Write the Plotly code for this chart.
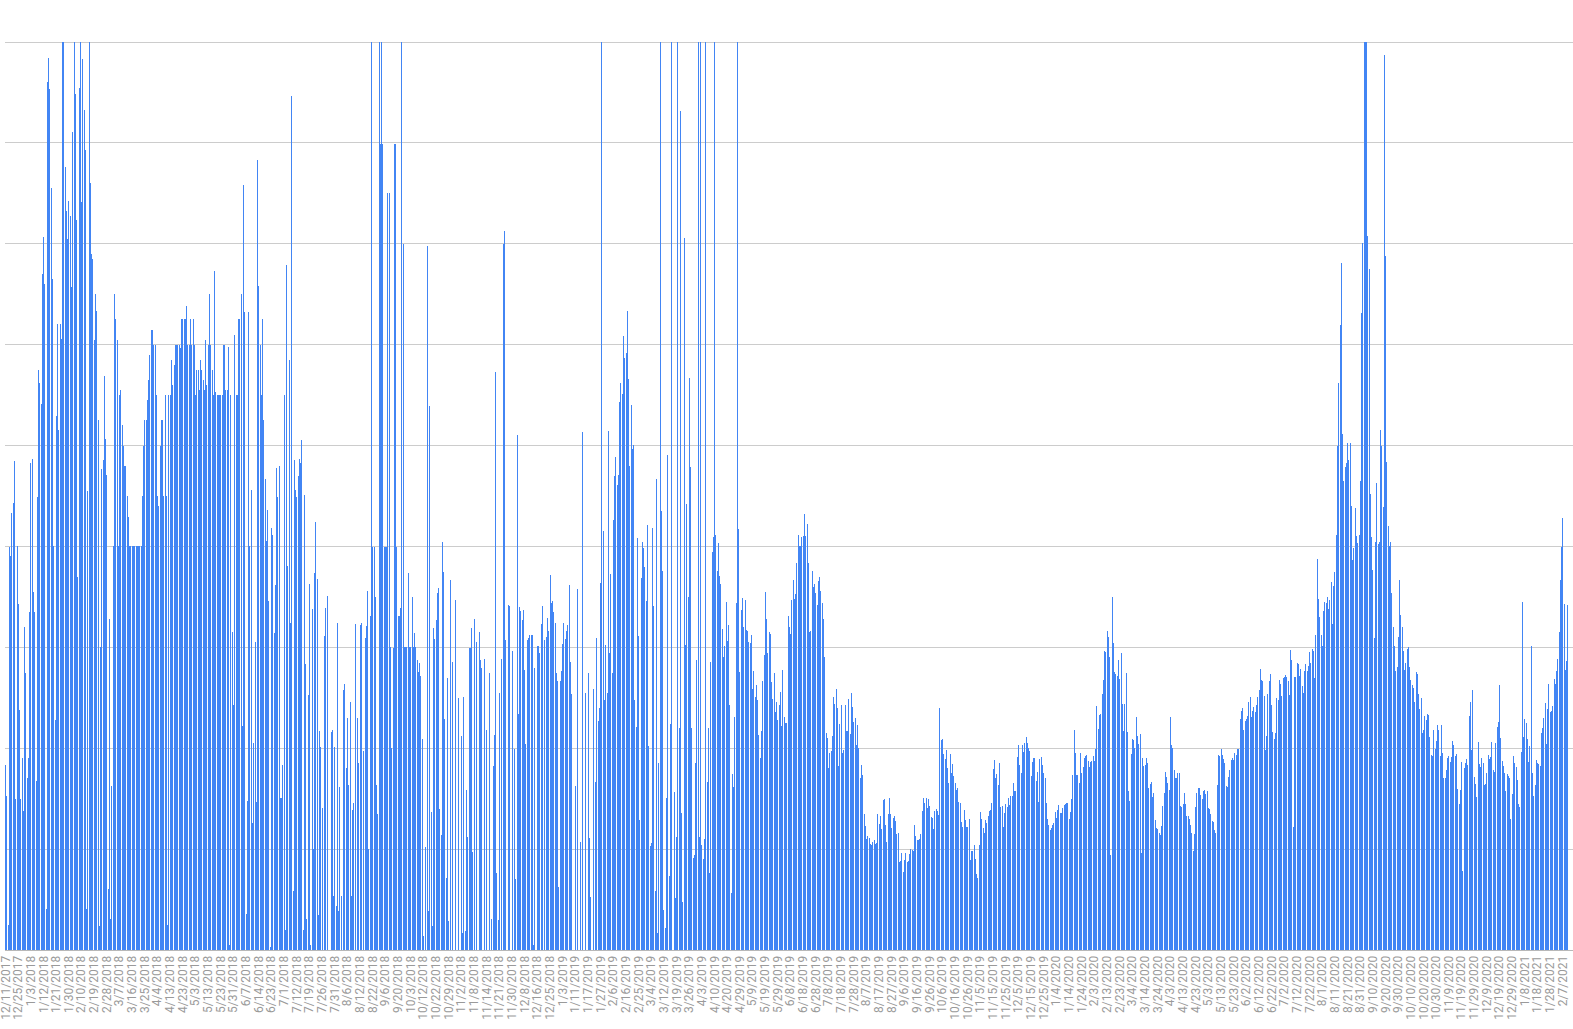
import plotly.graph_objects as go

tick_labels = """12/11/2017 12/25/2017 1/3/2018 1/12/2018 1/21/2018 1/30/2018 2/10/2018 2/19/2018 2/28/2018 3/7/2018 3/16/2018 3/25/2018 4/4/2018 4/13/2018 4/23/2018 5/3/2018 5/13/2018 5/23/2018 5/31/2018 6/7/2018 6/14/2018 6/23/2018 7/1/2018 7/12/2018 7/19/2018 7/26/2018 7/31/2018 8/6/2018 8/12/2018 8/22/2018 9/6/2018 9/20/2018 10/3/2018 10/12/2018 10/22/2018 10/29/2018 11/2/2018 11/8/2018 11/14/2018 11/21/2018 11/30/2018 12/8/2018 12/16/2018 12/25/2018 1/3/2019 1/11/2019 1/17/2019 1/27/2019 2/6/2019 2/16/2019 2/25/2019 3/4/2019 3/12/2019 3/19/2019 3/26/2019 4/3/2019 4/10/2019 4/20/2019 4/29/2019 5/9/2019 5/19/2019 5/29/2019 6/8/2019 6/18/2019 6/28/2019 7/8/2019 7/18/2019 7/28/2019 8/7/2019 8/17/2019 8/27/2019 9/6/2019 9/16/2019 9/26/2019 10/6/2019 10/16/2019 10/26/2019 11/5/2019 11/15/2019 11/25/2019 12/5/2019 12/15/2019 12/25/2019 1/4/2020 1/14/2020 1/24/2020 2/3/2020 2/13/2020 2/23/2020 3/4/2020 3/14/2020 3/24/2020 4/3/2020 4/13/2020 4/23/2020 5/3/2020 5/13/2020 5/23/2020 6/2/2020 6/12/2020 6/22/2020 7/2/2020 7/12/2020 7/22/2020 8/1/2020 8/11/2020 8/21/2020 8/31/2020 9/10/2020 9/20/2020 9/30/2020 10/10/2020 10/20/2020 10/30/2020 11/9/2020 11/19/2020 11/29/2020 12/9/2020 12/19/2020 12/29/2020 1/8/2021 1/18/2021 1/28/2021 2/7/2021""".split()

values_a = [183,153,25,399,391,433,443,485,150,400,343,238,150,190,138,320,275,170,190,335,483,487,355,335,168,449,575,562,541,670,707,660,41,860,884,853,755,665,400,228,529,621,515,621,606,900,900,776,733,705,742,728,657,811,900,848,724,370,854,900,741,883,833,793,41,455,900,760,690,685,605,650,633,525,24,300,477,486,569,507,471,60,328,31,163,400,650,625,605,400,550,555,520,500,480,480,450,429,400,400,400,400,400,400,400,400,400,400,450,500,525,525,545,565,590,615,615,600,600,550,450,440,500,525,525,450,550,450,25,550,550,585,560,580,600,600,600,600,597,625,625,625,625,638,600,600,625,600,625,600,550,575,575,555,585,575,565,555,605,560,600,650,600,575,550,673,553,550,550,550,550,550,600,600,555,555,598,5,550,315,243,610,550,550,625,625,650,222,758,632,36,148,632,400,456,126,205,305,147,783,658]

values_b = [600,550,625,525,467,405,436,346,3,418,411,314,362,478,449,480,151,151,183,550,20,679,381,585,324,847,58,486,456,449,470,487,483,506,20,451,283,31,253,363,5,338,100,374,424,368,35,217,201,141,0,311,339,351,0,0,216,218,54,201,44,324,39,162,54,0,258,264,180,230,164,246,54,139,146,323,0,230,185,322,324,0,197,309,321,356,100,331,900,399,399,350,164,135,900,799,900,799,399,399,399,750,750,300,200,299,799,799,399,331,331,339,900,700,300,300,300,374,300,300,350,300,314,300,287,276,284,272,209,14,0,102,698,39,539,137,24,319,308,327,354,359,140,114,404,375,229,71,270,29,367,0,285,0,347,0,0,250,0,212,17,251,19,159,112,299,299,319,97,328,0,305,0,315,287,280,0,288,0,218,0,275,0,31,182,213,573,76,30,255,0,288,700,713,307,0,342,341,0,296,0,199,70,510,234]

values_c = [340,336,327,337,278,204,307,309,312,312,312,5,280,0,301,301,294,323,341,0,307,310,329,316,372,344,346,335,324,275,267,62,267,277,303,324,308,316,322,362,285,254,0,0,163,0,358,0,107,0,513,0,255,0,275,111,53,0,259,0,167,309,227,240,364,900,415,248,302,255,514,294,373,275,426,470,489,461,471,543,562,551,609,587,592,633,566,480,540,497,501,248,221,408,311,129,369,404,398,380,346,421,202,103,106,418,341,58,467,17,185,900,435,376,40,22,151,491,73,224,900,0,157,52,112,900,220,832,136,48,706,302,442,350,567,479,220,91,94,185,287,900,112,900,104,90,110,900,167,220,76,285,395,409,900,411,376,403,371,363,318,290,301,345,306,322,243,57,174,162,231,344,900,417,276,337,349,320,347,317,316,305,304,312,259,277,251,263,248,213,190,217,267,292,355,328,294,315,313,266,249,275,236,246,228,243]

values_d = [256,222,278,231,225,225,331,320,313,347,367,348,353,384,411,400,400,409,410,432,410,422,384,315,316,376,360,363,354,342,366,370,356,344,328,290,215,210,180,195,197,212,251,244,259,240,182,224,243,195,198,243,217,217,249,214,255,241,226,230,203,223,200,170,183,173,135,123,110,113,111,105,104,107,109,105,106,135,125,133,120,149,150,124,107,135,151,135,121,131,133,128,115,116,87,88,96,77,89,96,87,88,95,100,99,98,124,113,109,109,110,115,138,151,146,151,141,150,143,132,131,120,138,140,138,134,240,208,209,194,189,198,180,166,194,175,184,172,166,159,161,147,146,127,122,139,129,122,122,130,89,98,98,104,90,75,71,104,137,130,121,116,129,126,133,138,139,146,179,188,170,174,164,185,142,143,122,136,145,142,151]

values_e = [144,153,153,166,158,158,191,203,183,175,203,196,205,211,205,200,197,172,186,190,190,168,176,147,189,191,183,175,170,146,130,124,119,121,124,126,137,131,139,144,136,136,141,144,145,146,146,130,137,150,173,218,195,173,173,166,195,175,181,190,192,193,187,181,186,187,192,187,199,242,219,233]

values_f = [234,254,268,296,295,316,310,290,94,350,304,276,274,272,287,269,294,244,217,244,275,216,158,148,194,209,208,200,231,212,204,214,96,190,182,183,190,185,161,165,167,152,156,129,121,120,116,114,123,143,156,176,171,166,159,231,203,200,178,170,170,175,175,143,142,145,156,145,133,133,130,124,116,98,115,142,156,161,161,154,150,158,159,155,158,141,140,135,128,127,119,116,164,193,192,199,193,189,185,163,162,171,178,188,190,188,195,193,199,199,229,237,240,218,227,229,232,246,251,231,237,241,236,243,251,258,279,268,267,252,198,212,254,267,274,243,216,209,215,250,248,268,264,252,270,271,273,271,267,253,297,287,122,271,271,284,283,272,279,262,255,277,283,277,282,295,284,298,296,270,312,388,348,330,312,301,336,345,344,350,338,347,365,323,361,375,411]

values_g = [500,562,620,681,511,465,479,483,503,486,503,440,387,398,438,410,403,411,465,631,701,900,900,900,708,675,452,409,377,309,404,463,402,404,515,500,439,887,688,484,420,400,404,354,320,301,277,281,310,367,332,320,296,278,284,298,300,281,268,263,260,246,276,274,254,239,250,215,218,232,228,234,233,211,193,192,218,199,207,223,218,192,223,195,170,170,178,190,192,186,191,207,203,192,194,160,145,159,186,78,180,185,189,183,232,246,198,258,171,165,152,206,184,181,190,185,164,165,175,193,189,191,206,178,176,205,221,226,263,210,187,182,175,158,174,172,170,130,155,192,185,181,169,145,142,196,345,211,229,225,209,186,202,301,175,153,164,188,185,184,182,215,220,230,245,204,239,264,236,237,242,269,264,277,288,315,367,399,428,343,278,286,342]

values = values_a + values_b + values_c + values_d + values_e + values_f + values_g
positions = list(range(len(values)))
tick_positions = [i * 10 for i in range(len(tick_labels))]

fig = go.Figure(go.Bar(
    x=positions, y=values,
    marker=dict(color="rgba(66,133,244,0.999)", line=dict(width=0)),
    hoverinfo="skip",
))
fig.update_layout(
    width=1573, height=1029,
    margin=dict(l=5, r=0, t=38.5, b=79, pad=0),
    paper_bgcolor="white", plot_bgcolor="white",
    bargap=0.21, showlegend=False,
    xaxis=dict(
        type="linear", range=[-0.5, 1238],
        tickmode="array", tickvals=tick_positions, ticktext=tick_labels,
        tickangle=-90, ticks="", showgrid=False, zeroline=False,
        showline=True, linecolor="#b8b8b8", linewidth=1,
        tickfont=dict(family="Roboto", size=12, color="#9a9a9a"),
        ticklabeloverflow="allow",
    ),
    yaxis=dict(
        range=[0, 903], dtick=100, tick0=0, showticklabels=False, ticks="",
        gridcolor="#cccccc", gridwidth=1, zeroline=False, showline=False,
    ),
)
post = """
document.body.style.margin = '0';
document.body.style.overflow = 'hidden';
document.querySelectorAll('.bars path').forEach(function (p) { p.style.shapeRendering = 'crispEdges'; });
"""
fig.write_html("out.html", post_script=post, config={"displayModeBar": False})
